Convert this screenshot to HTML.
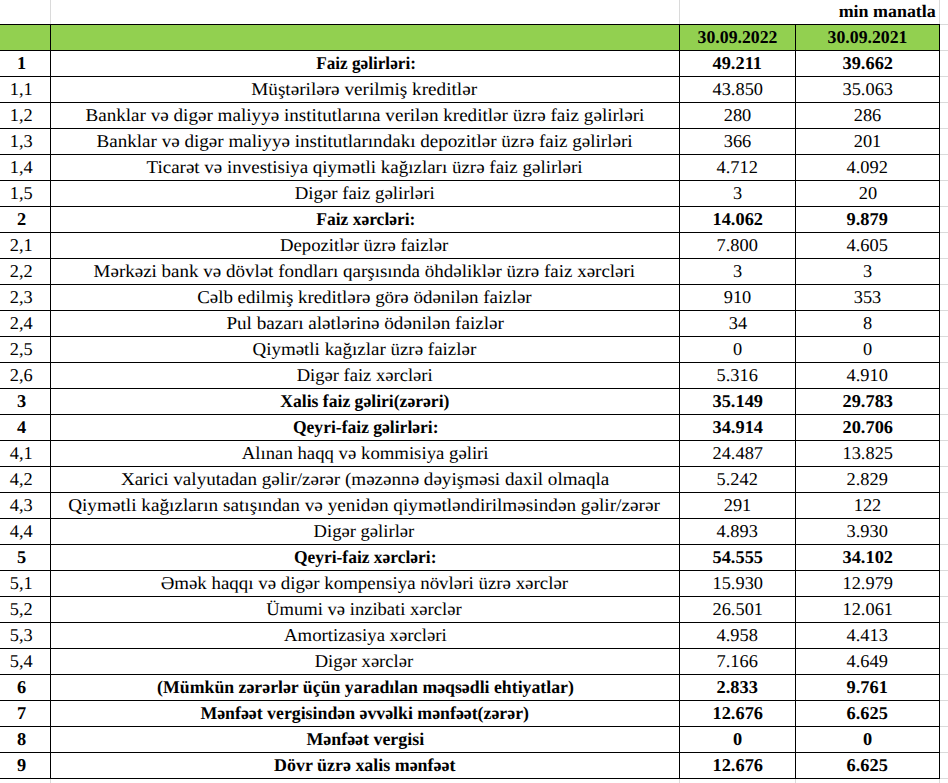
<!DOCTYPE html><html><head><meta charset="utf-8"><style>html,body{margin:0;padding:0;background:#fff;}#c{position:relative;width:948px;height:783px;overflow:hidden;background:#fff;font-family:"Liberation Serif",serif;color:#000;text-rendering:geometricPrecision;}.g{position:absolute;background:#dadada;}.k{position:absolute;background:#000;}.t{position:absolute;height:25px;line-height:25px;text-align:center;white-space:nowrap;}.t span{display:inline-block;}.b{font-weight:bold;}</style></head><body><div id="c"><div class="g" style="left:50px;top:0;width:1px;height:24px"></div><div class="g" style="left:679px;top:0;width:1px;height:24px"></div><div class="g" style="left:939px;top:0;width:1px;height:24px"></div><div class="g" style="left:50px;top:778px;width:1px;height:5px"></div><div class="g" style="left:679px;top:778px;width:1px;height:5px"></div><div class="g" style="left:795px;top:778px;width:1px;height:5px"></div><div class="g" style="left:939px;top:778px;width:1px;height:5px"></div><div class="g" style="left:939px;top:24px;width:9px;height:1px"></div><div class="g" style="left:939px;top:50px;width:9px;height:1px"></div><div class="g" style="left:939px;top:76px;width:9px;height:1px"></div><div class="g" style="left:939px;top:102px;width:9px;height:1px"></div><div class="g" style="left:939px;top:128px;width:9px;height:1px"></div><div class="g" style="left:939px;top:154px;width:9px;height:1px"></div><div class="g" style="left:939px;top:180px;width:9px;height:1px"></div><div class="g" style="left:939px;top:206px;width:9px;height:1px"></div><div class="g" style="left:939px;top:232px;width:9px;height:1px"></div><div class="g" style="left:939px;top:258px;width:9px;height:1px"></div><div class="g" style="left:939px;top:284px;width:9px;height:1px"></div><div class="g" style="left:939px;top:310px;width:9px;height:1px"></div><div class="g" style="left:939px;top:336px;width:9px;height:1px"></div><div class="g" style="left:939px;top:362px;width:9px;height:1px"></div><div class="g" style="left:939px;top:388px;width:9px;height:1px"></div><div class="g" style="left:939px;top:414px;width:9px;height:1px"></div><div class="g" style="left:939px;top:440px;width:9px;height:1px"></div><div class="g" style="left:939px;top:466px;width:9px;height:1px"></div><div class="g" style="left:939px;top:492px;width:9px;height:1px"></div><div class="g" style="left:939px;top:518px;width:9px;height:1px"></div><div class="g" style="left:939px;top:544px;width:9px;height:1px"></div><div class="g" style="left:939px;top:570px;width:9px;height:1px"></div><div class="g" style="left:939px;top:596px;width:9px;height:1px"></div><div class="g" style="left:939px;top:622px;width:9px;height:1px"></div><div class="g" style="left:939px;top:648px;width:9px;height:1px"></div><div class="g" style="left:939px;top:674px;width:9px;height:1px"></div><div class="g" style="left:939px;top:700px;width:9px;height:1px"></div><div class="g" style="left:939px;top:726px;width:9px;height:1px"></div><div class="g" style="left:939px;top:752px;width:9px;height:1px"></div><div class="g" style="left:939px;top:778px;width:9px;height:1px"></div><div style="position:absolute;left:0;top:24px;width:939px;height:26px;background:#92d050"></div><div class="k" style="left:0;top:24px;width:940px;height:1px"></div><div class="k" style="left:0;top:50px;width:940px;height:1px"></div><div class="k" style="left:0;top:76px;width:940px;height:1px"></div><div class="k" style="left:0;top:102px;width:940px;height:1px"></div><div class="k" style="left:0;top:128px;width:940px;height:1px"></div><div class="k" style="left:0;top:154px;width:940px;height:1px"></div><div class="k" style="left:0;top:180px;width:940px;height:1px"></div><div class="k" style="left:0;top:206px;width:940px;height:1px"></div><div class="k" style="left:0;top:232px;width:940px;height:1px"></div><div class="k" style="left:0;top:258px;width:940px;height:1px"></div><div class="k" style="left:0;top:284px;width:940px;height:1px"></div><div class="k" style="left:0;top:310px;width:940px;height:1px"></div><div class="k" style="left:0;top:336px;width:940px;height:1px"></div><div class="k" style="left:0;top:362px;width:940px;height:1px"></div><div class="k" style="left:0;top:388px;width:940px;height:1px"></div><div class="k" style="left:0;top:414px;width:940px;height:1px"></div><div class="k" style="left:0;top:440px;width:940px;height:1px"></div><div class="k" style="left:0;top:466px;width:940px;height:1px"></div><div class="k" style="left:0;top:492px;width:940px;height:1px"></div><div class="k" style="left:0;top:518px;width:940px;height:1px"></div><div class="k" style="left:0;top:544px;width:940px;height:1px"></div><div class="k" style="left:0;top:570px;width:940px;height:1px"></div><div class="k" style="left:0;top:596px;width:940px;height:1px"></div><div class="k" style="left:0;top:622px;width:940px;height:1px"></div><div class="k" style="left:0;top:648px;width:940px;height:1px"></div><div class="k" style="left:0;top:674px;width:940px;height:1px"></div><div class="k" style="left:0;top:700px;width:940px;height:1px"></div><div class="k" style="left:0;top:726px;width:940px;height:1px"></div><div class="k" style="left:0;top:752px;width:940px;height:1px"></div><div class="k" style="left:0;top:778px;width:940px;height:1px"></div><div class="k" style="left:50px;top:24px;width:1px;height:755px"></div><div class="k" style="left:679px;top:24px;width:1px;height:755px"></div><div class="k" style="left:795px;top:24px;width:1px;height:755px"></div><div class="k" style="left:939px;top:24px;width:1px;height:755px"></div><div class="t b" style="left:680px;top:1px;width:256px;text-align:right;font-size:17.5px;line-height:20px;height:20px"><span style="transform-origin:100% 50%;transform:scaleX(1.025)">min manatla</span></div><div class="t b" style="left:680px;top:25.0px;width:115px;font-size:18px"><span style="transform:scaleX(0.985)">30.09.2022</span></div><div class="t b" style="left:796px;top:25.0px;width:143px;font-size:18px"><span style="transform:scaleX(0.985)">30.09.2021</span></div><div class="t b" style="left:-8px;top:51.0px;width:58px;font-size:18px"><span style="transform:scaleX(1.02)">1</span></div><div class="t b" style="left:51px;top:51.0px;width:628px;font-size:18px"><span style="transform:translateX(0.83px) scaleX(0.9544)">Faiz gəlirləri:</span></div><div class="t b" style="left:680px;top:51.0px;width:115px;font-size:18px"><span style="transform:scaleX(1.02)">49.211</span></div><div class="t b" style="left:796px;top:51.0px;width:143px;font-size:18px"><span style="transform:scaleX(1.02)">39.662</span></div><div class="t" style="left:-8px;top:77.0px;width:58px;font-size:18px"><span style="transform:scaleX(1.02)">1,1</span></div><div class="t" style="left:51px;top:77.0px;width:628px;font-size:18px"><span style="transform:translateX(-0.83px) scaleX(1.0654)">Müştərilərə verilmiş kreditlər</span></div><div class="t" style="left:680px;top:77.0px;width:115px;font-size:18px"><span style="transform:scaleX(1.02)">43.850</span></div><div class="t" style="left:796px;top:77.0px;width:143px;font-size:18px"><span style="transform:scaleX(1.02)">35.063</span></div><div class="t" style="left:-8px;top:103.0px;width:58px;font-size:18px"><span style="transform:scaleX(1.02)">1,2</span></div><div class="t" style="left:51px;top:103.0px;width:628px;font-size:18px"><span style="transform:translateX(-0.25px) scaleX(1.0620)">Banklar və digər maliyyə institutlarına verilən kreditlər üzrə faiz gəlirləri</span></div><div class="t" style="left:680px;top:103.0px;width:115px;font-size:18px"><span style="transform:scaleX(1.02)">280</span></div><div class="t" style="left:796px;top:103.0px;width:143px;font-size:18px"><span style="transform:scaleX(1.02)">286</span></div><div class="t" style="left:-8px;top:129.0px;width:58px;font-size:18px"><span style="transform:scaleX(1.02)">1,3</span></div><div class="t" style="left:51px;top:129.0px;width:628px;font-size:18px"><span style="transform:translateX(-0.30px) scaleX(1.0599)">Banklar və digər maliyyə institutlarındakı depozitlər üzrə faiz gəlirləri</span></div><div class="t" style="left:680px;top:129.0px;width:115px;font-size:18px"><span style="transform:scaleX(1.02)">366</span></div><div class="t" style="left:796px;top:129.0px;width:143px;font-size:18px"><span style="transform:scaleX(1.02)">201</span></div><div class="t" style="left:-8px;top:155.0px;width:58px;font-size:18px"><span style="transform:scaleX(1.02)">1,4</span></div><div class="t" style="left:51px;top:155.0px;width:628px;font-size:18px"><span style="transform:translateX(-0.30px) scaleX(1.0539)">Ticarət və investisiya qiymətli kağızları üzrə faiz gəlirləri</span></div><div class="t" style="left:680px;top:155.0px;width:115px;font-size:18px"><span style="transform:scaleX(1.02)">4.712</span></div><div class="t" style="left:796px;top:155.0px;width:143px;font-size:18px"><span style="transform:scaleX(1.02)">4.092</span></div><div class="t" style="left:-8px;top:181.0px;width:58px;font-size:18px"><span style="transform:scaleX(1.02)">1,5</span></div><div class="t" style="left:51px;top:181.0px;width:628px;font-size:18px"><span style="transform:translateX(-0.30px) scaleX(1.0455)">Digər faiz gəlirləri</span></div><div class="t" style="left:680px;top:181.0px;width:115px;font-size:18px"><span style="transform:scaleX(1.02)">3</span></div><div class="t" style="left:796px;top:181.0px;width:143px;font-size:18px"><span style="transform:scaleX(1.02)">20</span></div><div class="t b" style="left:-8px;top:207.0px;width:58px;font-size:18px"><span style="transform:scaleX(1.02)">2</span></div><div class="t b" style="left:51px;top:207.0px;width:628px;font-size:18px"><span style="transform:translateX(0.79px) scaleX(0.9717)">Faiz xərcləri:</span></div><div class="t b" style="left:680px;top:207.0px;width:115px;font-size:18px"><span style="transform:scaleX(1.02)">14.062</span></div><div class="t b" style="left:796px;top:207.0px;width:143px;font-size:18px"><span style="transform:scaleX(1.02)">9.879</span></div><div class="t" style="left:-8px;top:233.0px;width:58px;font-size:18px"><span style="transform:scaleX(1.02)">2,1</span></div><div class="t" style="left:51px;top:233.0px;width:628px;font-size:18px"><span style="transform:translateX(-0.82px) scaleX(1.0398)">Depozitlər üzrə faizlər</span></div><div class="t" style="left:680px;top:233.0px;width:115px;font-size:18px"><span style="transform:scaleX(1.02)">7.800</span></div><div class="t" style="left:796px;top:233.0px;width:143px;font-size:18px"><span style="transform:scaleX(1.02)">4.605</span></div><div class="t" style="left:-8px;top:259.0px;width:58px;font-size:18px"><span style="transform:scaleX(1.02)">2,2</span></div><div class="t" style="left:51px;top:259.0px;width:628px;font-size:18px"><span style="transform:translateX(-0.30px) scaleX(1.0551)">Mərkəzi bank və dövlət fondları qarşısında öhdəliklər üzrə faiz xərcləri</span></div><div class="t" style="left:680px;top:259.0px;width:115px;font-size:18px"><span style="transform:scaleX(1.02)">3</span></div><div class="t" style="left:796px;top:259.0px;width:143px;font-size:18px"><span style="transform:scaleX(1.02)">3</span></div><div class="t" style="left:-8px;top:285.0px;width:58px;font-size:18px"><span style="transform:scaleX(1.02)">2,3</span></div><div class="t" style="left:51px;top:285.0px;width:628px;font-size:18px"><span style="transform:translateX(-0.83px) scaleX(1.0505)">Cəlb edilmiş kreditlərə görə ödənilən faizlər</span></div><div class="t" style="left:680px;top:285.0px;width:115px;font-size:18px"><span style="transform:scaleX(1.02)">910</span></div><div class="t" style="left:796px;top:285.0px;width:143px;font-size:18px"><span style="transform:scaleX(1.02)">353</span></div><div class="t" style="left:-8px;top:311.0px;width:58px;font-size:18px"><span style="transform:scaleX(1.02)">2,4</span></div><div class="t" style="left:51px;top:311.0px;width:628px;font-size:18px"><span style="transform:translateX(-0.30px) scaleX(1.0638)">Pul bazarı alətlərinə ödənilən faizlər</span></div><div class="t" style="left:680px;top:311.0px;width:115px;font-size:18px"><span style="transform:scaleX(1.02)">34</span></div><div class="t" style="left:796px;top:311.0px;width:143px;font-size:18px"><span style="transform:scaleX(1.02)">8</span></div><div class="t" style="left:-8px;top:337.0px;width:58px;font-size:18px"><span style="transform:scaleX(1.02)">2,5</span></div><div class="t" style="left:51px;top:337.0px;width:628px;font-size:18px"><span style="transform:translateX(-0.83px) scaleX(1.0540)">Qiymətli kağızlar üzrə faizlər</span></div><div class="t" style="left:680px;top:337.0px;width:115px;font-size:18px"><span style="transform:scaleX(1.02)">0</span></div><div class="t" style="left:796px;top:337.0px;width:143px;font-size:18px"><span style="transform:scaleX(1.02)">0</span></div><div class="t" style="left:-8px;top:363.0px;width:58px;font-size:18px"><span style="transform:scaleX(1.02)">2,6</span></div><div class="t" style="left:51px;top:363.0px;width:628px;font-size:18px"><span style="transform:translateX(-0.30px) scaleX(1.0308)">Digər faiz xərcləri</span></div><div class="t" style="left:680px;top:363.0px;width:115px;font-size:18px"><span style="transform:scaleX(1.02)">5.316</span></div><div class="t" style="left:796px;top:363.0px;width:143px;font-size:18px"><span style="transform:scaleX(1.02)">4.910</span></div><div class="t b" style="left:-8px;top:389.0px;width:58px;font-size:18px"><span style="transform:scaleX(1.02)">3</span></div><div class="t b" style="left:51px;top:389.0px;width:628px;font-size:18px"><span style="transform:translateX(-0.60px) scaleX(0.9779)">Xalis faiz gəliri(zərəri)</span></div><div class="t b" style="left:680px;top:389.0px;width:115px;font-size:18px"><span style="transform:scaleX(1.02)">35.149</span></div><div class="t b" style="left:796px;top:389.0px;width:143px;font-size:18px"><span style="transform:scaleX(1.02)">29.783</span></div><div class="t b" style="left:-8px;top:415.0px;width:58px;font-size:18px"><span style="transform:scaleX(1.02)">4</span></div><div class="t b" style="left:51px;top:415.0px;width:628px;font-size:18px"><span style="transform:translateX(1.04px) scaleX(0.9748)">Qeyri-faiz gəlirləri:</span></div><div class="t b" style="left:680px;top:415.0px;width:115px;font-size:18px"><span style="transform:scaleX(1.02)">34.914</span></div><div class="t b" style="left:796px;top:415.0px;width:143px;font-size:18px"><span style="transform:scaleX(1.02)">20.706</span></div><div class="t" style="left:-8px;top:441.0px;width:58px;font-size:18px"><span style="transform:scaleX(1.02)">4,1</span></div><div class="t" style="left:51px;top:441.0px;width:628px;font-size:18px"><span style="transform:translateX(-0.30px) scaleX(1.0415)">Alınan haqq və kommisiya gəliri</span></div><div class="t" style="left:680px;top:441.0px;width:115px;font-size:18px"><span style="transform:scaleX(1.02)">24.487</span></div><div class="t" style="left:796px;top:441.0px;width:143px;font-size:18px"><span style="transform:scaleX(1.02)">13.825</span></div><div class="t" style="left:-8px;top:467.0px;width:58px;font-size:18px"><span style="transform:scaleX(1.02)">4,2</span></div><div class="t" style="left:51px;top:467.0px;width:628px;font-size:18px"><span style="transform:translateX(-0.30px) scaleX(1.0600)">Xarici valyutadan gəlir/zərər (məzənnə dəyişməsi daxil olmaqla</span></div><div class="t" style="left:680px;top:467.0px;width:115px;font-size:18px"><span style="transform:scaleX(1.02)">5.242</span></div><div class="t" style="left:796px;top:467.0px;width:143px;font-size:18px"><span style="transform:scaleX(1.02)">2.829</span></div><div class="t" style="left:-8px;top:493.0px;width:58px;font-size:18px"><span style="transform:scaleX(1.02)">4,3</span></div><div class="t" style="left:51px;top:493.0px;width:628px;font-size:18px"><span style="transform:translateX(-0.93px) scaleX(1.0684)">Qiymətli kağızların satışından və yenidən qiymətləndirilməsindən gəlir/zərər</span></div><div class="t" style="left:680px;top:493.0px;width:115px;font-size:18px"><span style="transform:scaleX(1.02)">291</span></div><div class="t" style="left:796px;top:493.0px;width:143px;font-size:18px"><span style="transform:scaleX(1.02)">122</span></div><div class="t" style="left:-8px;top:519.0px;width:58px;font-size:18px"><span style="transform:scaleX(1.02)">4,4</span></div><div class="t" style="left:51px;top:519.0px;width:628px;font-size:18px"><span style="transform:translateX(-0.82px) scaleX(1.0330)">Digər gəlirlər</span></div><div class="t" style="left:680px;top:519.0px;width:115px;font-size:18px"><span style="transform:scaleX(1.02)">4.893</span></div><div class="t" style="left:796px;top:519.0px;width:143px;font-size:18px"><span style="transform:scaleX(1.02)">3.930</span></div><div class="t b" style="left:-8px;top:545.0px;width:58px;font-size:18px"><span style="transform:scaleX(1.02)">5</span></div><div class="t b" style="left:51px;top:545.0px;width:628px;font-size:18px"><span style="transform:translateX(0.68px) scaleX(0.9697)">Qeyri-faiz xərcləri:</span></div><div class="t b" style="left:680px;top:545.0px;width:115px;font-size:18px"><span style="transform:scaleX(1.02)">54.555</span></div><div class="t b" style="left:796px;top:545.0px;width:143px;font-size:18px"><span style="transform:scaleX(1.02)">34.102</span></div><div class="t" style="left:-8px;top:571.0px;width:58px;font-size:18px"><span style="transform:scaleX(1.02)">5,1</span></div><div class="t" style="left:51px;top:571.0px;width:628px;font-size:18px"><span style="transform:translateX(-0.82px) scaleX(1.0491)">Əmək haqqı və digər kompensiya növləri üzrə xərclər</span></div><div class="t" style="left:680px;top:571.0px;width:115px;font-size:18px"><span style="transform:scaleX(1.02)">15.930</span></div><div class="t" style="left:796px;top:571.0px;width:143px;font-size:18px"><span style="transform:scaleX(1.02)">12.979</span></div><div class="t" style="left:-8px;top:597.0px;width:58px;font-size:18px"><span style="transform:scaleX(1.02)">5,2</span></div><div class="t" style="left:51px;top:597.0px;width:628px;font-size:18px"><span style="transform:translateX(-0.82px) scaleX(1.0317)">Ümumi və inzibati xərclər</span></div><div class="t" style="left:680px;top:597.0px;width:115px;font-size:18px"><span style="transform:scaleX(1.02)">26.501</span></div><div class="t" style="left:796px;top:597.0px;width:143px;font-size:18px"><span style="transform:scaleX(1.02)">12.061</span></div><div class="t" style="left:-8px;top:623.0px;width:58px;font-size:18px"><span style="transform:scaleX(1.02)">5,3</span></div><div class="t" style="left:51px;top:623.0px;width:628px;font-size:18px"><span style="transform:translateX(0.22px) scaleX(1.0400)">Amortizasiya xərcləri</span></div><div class="t" style="left:680px;top:623.0px;width:115px;font-size:18px"><span style="transform:scaleX(1.02)">4.958</span></div><div class="t" style="left:796px;top:623.0px;width:143px;font-size:18px"><span style="transform:scaleX(1.02)">4.413</span></div><div class="t" style="left:-8px;top:649.0px;width:58px;font-size:18px"><span style="transform:scaleX(1.02)">5,4</span></div><div class="t" style="left:51px;top:649.0px;width:628px;font-size:18px"><span style="transform:translateX(-0.82px) scaleX(1.0316)">Digər xərclər</span></div><div class="t" style="left:680px;top:649.0px;width:115px;font-size:18px"><span style="transform:scaleX(1.02)">7.166</span></div><div class="t" style="left:796px;top:649.0px;width:143px;font-size:18px"><span style="transform:scaleX(1.02)">4.649</span></div><div class="t b" style="left:-8px;top:675.0px;width:58px;font-size:18px"><span style="transform:scaleX(1.02)">6</span></div><div class="t b" style="left:51px;top:675.0px;width:628px;font-size:18px"><span style="transform:translateX(0.45px) scaleX(0.9874)">(Mümkün zərərlər üçün yaradılan məqsədli ehtiyatlar)</span></div><div class="t b" style="left:680px;top:675.0px;width:115px;font-size:18px"><span style="transform:scaleX(1.02)">2.833</span></div><div class="t b" style="left:796px;top:675.0px;width:143px;font-size:18px"><span style="transform:scaleX(1.02)">9.761</span></div><div class="t b" style="left:-8px;top:701.0px;width:58px;font-size:18px"><span style="transform:scaleX(1.02)">7</span></div><div class="t b" style="left:51px;top:701.0px;width:628px;font-size:18px"><span style="transform:translateX(-0.50px) scaleX(0.9886)">Mənfəət vergisindən əvvəlki mənfəət(zərər)</span></div><div class="t b" style="left:680px;top:701.0px;width:115px;font-size:18px"><span style="transform:scaleX(1.02)">12.676</span></div><div class="t b" style="left:796px;top:701.0px;width:143px;font-size:18px"><span style="transform:scaleX(1.02)">6.625</span></div><div class="t b" style="left:-8px;top:727.0px;width:58px;font-size:18px"><span style="transform:scaleX(1.02)">8</span></div><div class="t b" style="left:51px;top:727.0px;width:628px;font-size:18px"><span style="transform:translateX(0.05px) scaleX(0.9941)">Mənfəət vergisi</span></div><div class="t b" style="left:680px;top:727.0px;width:115px;font-size:18px"><span style="transform:scaleX(1.02)">0</span></div><div class="t b" style="left:796px;top:727.0px;width:143px;font-size:18px"><span style="transform:scaleX(1.02)">0</span></div><div class="t b" style="left:-8px;top:753.0px;width:58px;font-size:18px"><span style="transform:scaleX(1.02)">9</span></div><div class="t b" style="left:51px;top:753.0px;width:628px;font-size:18px"><span style="transform:translateX(-0.30px) scaleX(0.9956)">Dövr üzrə xalis mənfəət</span></div><div class="t b" style="left:680px;top:753.0px;width:115px;font-size:18px"><span style="transform:scaleX(1.02)">12.676</span></div><div class="t b" style="left:796px;top:753.0px;width:143px;font-size:18px"><span style="transform:scaleX(1.02)">6.625</span></div></div></body></html>
